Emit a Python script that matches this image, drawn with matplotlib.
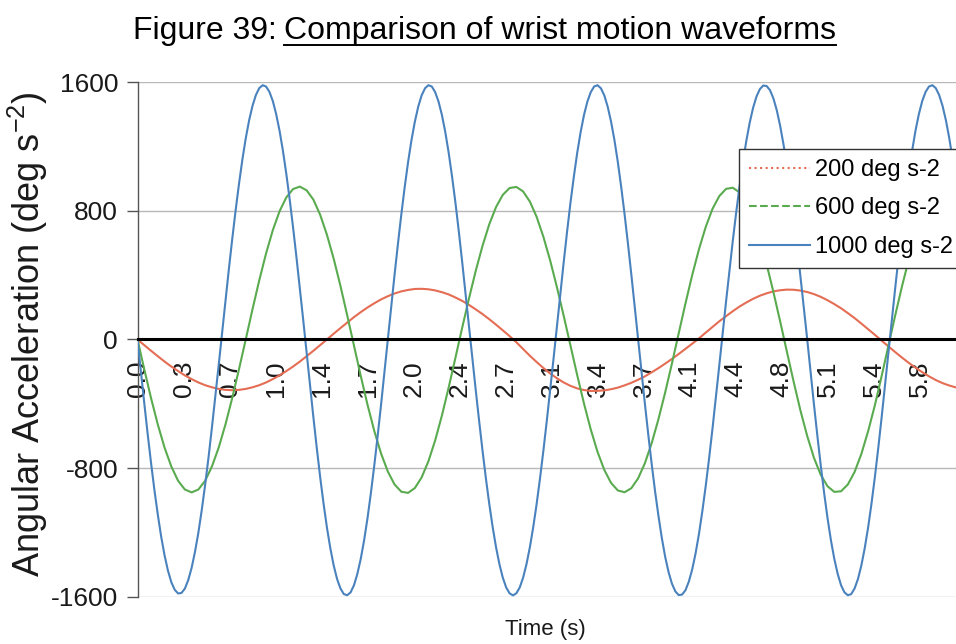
import matplotlib
matplotlib.use("Agg")
import matplotlib.pyplot as plt
from matplotlib.lines import Line2D
import numpy as np

plt.rcParams["font.family"] = ["Liberation Sans", "DejaVu Sans"]
plt.rcParams["mathtext.default"] = "regular"

# readings every 0.05 s (200 and 600 runs) and every 0.025 s (1000 run)
time_s = np.round(np.arange(0, 6.101, 0.05), 3)
time_fast_s = np.round(np.arange(0, 6.101, 0.025), 3)

accel_200 = [
    0, -35, -70, -104, -137, -168, -196, -223, -246, -267,
    -284, -297, -307, -313, -315, -313, -307, -297, -284, -267,
    -246, -223, -196, -168, -137, -104, -70, -35, 0, 36,
    71, 105, 139, 170, 199, 225, 249, 269, 286, 299,
    308, 314, 315, 312, 305, 294, 280, 261, 240, 215,
    187, 158, 126, 92, 57, 21, -17, -59, -101, -140,
    -177, -211, -241, -267, -288, -304, -314, -320, -319, -316,
    -309, -299, -285, -269, -250, -229, -204, -178, -150, -121,
    -90, -58, -26, 7, 43, 78, 113, 145, 176, 205,
    230, 253, 272, 287, 299, 306, 310, 309, 304, 295,
    282, 265, 244, 220, 194, 164, 133, 99, 64, 29,
    -7, -43, -78, -112, -145, -175, -203, -229, -252, -271,
    -286, -298, -306,
]

accel_600 = [
    0, -185, -364, -528, -672, -789, -878, -932, -950, -932,
    -878, -789, -672, -528, -364, -185, 0, 188, 368, 534,
    679, 797, 883, 935, 950, 927, 869, 775, 651, 502,
    333, 150, -38, -226, -405, -568, -708, -820, -901, -946,
    -953, -923, -857, -757, -627, -472, -298, -113, 74, 255,
    427, 582, 716, 823, 899, 941, 948, 920, 857, 762,
    638, 491, 325, 147, -37, -222, -398, -559, -698, -810,
    -891, -938, -949, -924, -863, -769, -645, -496, -329, -149,
    38, 224, 401, 561, 700, 812, 891, 936, 943, 914,
    848, 748, 620, 467, 295, 112, -77, -264, -442, -600,
    -736, -841, -912, -947, -943, -901, -823, -711, -570, -408,
    -227, -38, 149, 329, 496, 645, 769, 863, 924, 949,
    938, 891, 810,
]

accel_1000 = [
    0, -200, -395, -586, -766, -935, -1088, -1225, -1341, -1436,
    -1508, -1555, -1578, -1575, -1548, -1495, -1419, -1319, -1200, -1059,
    -902, -732, -548, -357, -160, 40, 239, 435, 623, 801,
    966, 1117, 1250, 1362, 1452, 1519, 1562, 1580, 1572, 1539,
    1482, 1400, 1297, 1172, 1028, 869, 695, 510, 318, 120,
    -82, -285, -483, -674, -854, -1019, -1168, -1296, -1404, -1488,
    -1547, -1582, -1589, -1571, -1527, -1456, -1363, -1247, -1110, -954,
    -783, -599, -406, -204, 0, 203, 403, 595, 778, 948,
    1103, 1239, 1354, 1447, 1517, 1561, 1580, 1572, 1537, 1478,
    1395, 1288, 1160, 1012, 849, 670, 480, 283, 82, -119,
    -315, -506, -690, -863, -1022, -1165, -1291, -1396, -1480, -1541,
    -1577, -1590, -1577, -1541, -1480, -1396, -1291, -1165, -1022, -863,
    -690, -506, -315, -119, 81, 283, 480, 670, 849, 1012,
    1160, 1288, 1395, 1478, 1537, 1572, 1580, 1561, 1517, 1447,
    1354, 1239, 1103, 948, 778, 595, 403, 203, 0, -201,
    -398, -590, -771, -941, -1094, -1232, -1350, -1445, -1517, -1565,
    -1588, -1585, -1558, -1504, -1428, -1328, -1207, -1065, -908, -736,
    -552, -359, -161, 39, 236, 428, 615, 790, 953, 1103,
    1235, 1348, 1440, 1510, 1556, 1578, 1575, 1549, 1498, 1424,
    1327, 1210, 1076, 923, 757, 577, 390, 196, 0, -204,
    -406, -599, -783, -954, -1110, -1247, -1363, -1456, -1527, -1571,
    -1589, -1582, -1547, -1488, -1404, -1296, -1168, -1019, -854, -674,
    -483, -285, -82, 120, 318, 510, 695, 869, 1028, 1172,
    1297, 1400, 1482, 1539, 1572, 1580, 1562, 1519, 1452, 1362,
    1250, 1117, 966, 801, 623,
]

series_names = ["200 deg s-2", "600 deg s-2", "1000 deg s-2"]
series_colors = ["#e46d54", "#5aab50", "#4a82bd"]
legend_styles = [":", "--", "-"]

# category labels shown every 0.34 s
tick_labels = ["0.0", "0.3", "0.7", "1.0", "1.4", "1.7", "2.0", "2.4", "2.7",
               "3.1", "3.4", "3.7", "4.1", "4.4", "4.8", "5.1", "5.4", "5.8"]
tick_step_s = 0.34
y_ticks = [-1600, -800, 0, 800, 1600]

W, H = 956, 644
fig = plt.figure(figsize=(W / 100, H / 100), dpi=100)
fig.patch.set_facecolor("white")

# plot area runs off the right edge of the page
x0, y_top, y_bot = 137.5, 82, 597
px_per_s = 135.3
ax = fig.add_axes([x0 / W, 1 - y_bot / H, 1 - x0 / W, (y_bot - y_top) / H])
ax.set_xlim(0, (W - x0) / px_per_s)
ax.set_ylim(-1600, 1600)

runs = [(time_s, accel_200), (time_s, accel_600), (time_fast_s, accel_1000)]
for (t, vals), color in zip(runs, series_colors):
    ax.plot(t, vals, color=color, lw=1.5, zorder=3, solid_joinstyle="round")

ax.set_yticks(y_ticks)
ax.set_yticklabels([str(v) for v in y_ticks])
ax.yaxis.grid(True, color="#b8b8b8", lw=1.0)
ax.set_axisbelow(True)
ax.tick_params(axis="y", direction="out", length=8, width=1, color="#555555",
               labelsize=19, pad=6, labelcolor="#1a1a1a")

ax.set_xticks(np.arange(len(tick_labels)) * tick_step_s)
ax.set_xticklabels(tick_labels)
ax.tick_params(axis="x", length=0, pad=15, labelsize=19, labelrotation=90,
               labelcolor="#1a1a1a")

for side in ["top", "right"]:
    ax.spines[side].set_visible(False)
ax.spines["left"].set_color("#555555")
ax.spines["left"].set_linewidth(1.0)
ax.spines["bottom"].set_position(("data", 0))
ax.spines["bottom"].set_color("black")
ax.spines["bottom"].set_linewidth(2.2)
ax.spines["bottom"].set_zorder(4)

fig.text(28 / W, 1 - 334 / H, "Angular Acceleration (deg s$^{-2}$)",
         rotation=90, ha="center", va="center", fontsize=26, color="#1a1a1a")
fig.text(545 / W, 1 - 629 / H, "Time (s)", ha="center", va="center",
         fontsize=16, color="#1a1a1a")

handles = [Line2D([], [], color=c, ls=s, lw=1.5)
           for c, s in zip(series_colors, legend_styles)]
leg = fig.legend(handles, series_names, loc="upper left",
                 bbox_to_anchor=(739 / W, 1 - 149 / H), fontsize=17,
                 frameon=True, fancybox=False, framealpha=1, edgecolor="#333333",
                 borderaxespad=0, borderpad=0.42, labelspacing=0.7,
                 handlelength=2.6, handletextpad=0.2)
leg.get_frame().set_linewidth(1.0)

# title, with the description underlined
renderer = fig.canvas.get_renderer()
title_y = 1 - 39 / H
t1 = fig.text(133 / W, title_y, "Figure 39:", fontsize=23, va="baseline")
bb1 = t1.get_window_extent(renderer)
space_px = 7
t2 = fig.text((bb1.x1 + space_px) / W, title_y,
              "Comparison of wrist motion waveforms", fontsize=23, va="baseline")
bb2 = t2.get_window_extent(renderer)
ul_y = 1 - 45 / H
fig.add_artist(Line2D([bb2.x0 / W, bb2.x1 / W], [ul_y, ul_y],
                      transform=fig.transFigure, color="black", lw=1.4))

fig.savefig("out.png", dpi=100)
